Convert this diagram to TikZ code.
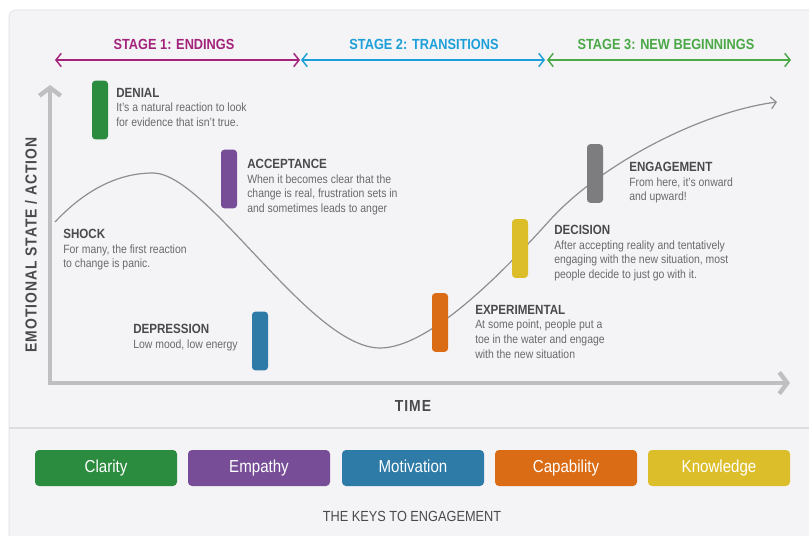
\documentclass[tikz,border=0pt]{standalone}
\usepackage{fontspec}
\setmainfont{Liberation Sans}[FakeStretch=0.87]
\usetikzlibrary{arrows.meta}

\definecolor{panelbg}{HTML}{F4F4F7}
\definecolor{panelline}{HTML}{DDDDE0}
\definecolor{axisgray}{HTML}{BFBFC1}
\definecolor{curvegray}{HTML}{8E8E90}
\definecolor{headgray}{HTML}{4A4A4C}
\definecolor{bodygray}{HTML}{6A6A6C}
\definecolor{stageone}{HTML}{A3237B}
\definecolor{stagetwo}{HTML}{1C9FD9}
\definecolor{stagethree}{HTML}{4BA846}
\definecolor{cgreen}{HTML}{2B8B3F}
\definecolor{cpurple}{HTML}{774D97}
\definecolor{cblue}{HTML}{2E7BA8}
\definecolor{corange}{HTML}{DB6C16}
\definecolor{cyellow}{HTML}{DCBE2B}
\definecolor{cgray}{HTML}{7D7D7F}

\tikzset{
	bar/.style={fill=#1, rounded corners=2.5pt, minimum width=12pt, minimum height=44pt, inner sep=0pt},
	keybox/.style={fill=#1, rounded corners=3pt, minimum width=106.5pt, minimum height=27pt, inner sep=0pt, text height=9.3pt, text depth=2.7pt, text=white, font=\fontsize{13}{15}\selectfont},
	note/.style={anchor=north west, inner sep=0pt, align=left, text=bodygray, font=\fontsize{9}{10.9}\selectfont},
	stagetitle/.style={inner sep=0pt, font=\fontsize{11}{13}\selectfont\bfseries},
	stagearrow/.style={draw=#1, line width=1.1pt, {Straight Barb[length=4pt,width=10pt]}-{Straight Barb[length=4pt,width=10pt]}},
	axislabel/.style={inner sep=0pt, text=headgray, font=\fontsize{12}{14}\selectfont\bfseries\addfontfeature{LetterSpace=6}},
}
\newcommand{\head}[1]{{\color{headgray}\fontsize{10}{12}\selectfont\bfseries #1}}

\begin{document}
\begin{tikzpicture}[x=0.75pt,y=-0.75pt]
	\useasboundingbox (0,0) rectangle (809,535);
	\draw[panelline, fill=panelbg, rounded corners=5pt] (9,10) rectangle (830,560);
	\draw[panelline, line width=1.5pt] (9,428) -- (809,428);

	% stages along the top
	\coordinate (s1l) at (55,60);
	\coordinate (s1r) at (300,60);
	\coordinate (s2l) at (301,60);
	\coordinate (s2r) at (545,60);
	\coordinate (s3l) at (547,60);
	\coordinate (s3r) at (791,60);
	\draw[stagearrow=stageone] (s1l) -- (s1r);
	\draw[stagearrow=stagetwo] (s2l) -- (s2r);
	\draw[stagearrow=stagethree] (s3l) -- (s3r);
	\node[stagetitle, text=stageone] (st1) at (174,44.5) {STAGE 1: ENDINGS};
	\node[stagetitle, text=stagetwo] (st2) at (424,44.5) {STAGE 2: TRANSITIONS};
	\node[stagetitle, text=stagethree] (st3) at (666,44.5) {STAGE 3: NEW BEGINNINGS};

	% axes
	\coordinate (ytip) at (50,85);
	\coordinate (origin) at (50,383);
	\coordinate (xtip) at (790,383);
	\draw[axisgray, line width=3.3pt, {Straight Barb[length=6pt,width=16pt]}-{Straight Barb[length=6pt,width=16pt]}] (ytip) -- (origin) -- (xtip);
	\node[axislabel, rotate=90] (ylab) at (31,245) {EMOTIONAL STATE / ACTION};
	\node[axislabel] (xlab) at (413,406) {TIME};

	% change curve
	\coordinate (cstart) at (55,222);
	\coordinate (cpeak) at (153,173);
	\coordinate (ctrough) at (380,348);
	\coordinate (cmid) at (550,220);
	\coordinate (cend) at (777,102);
	\draw[curvegray, line width=0.9pt, -{Straight Barb[length=4pt,width=9pt]}] (cstart) .. controls (85,190) and (118,173) .. (cpeak)
		.. controls (207,173) and (310,348) .. (ctrough)
		.. controls (430,348) and (505,270) .. (cmid)
		.. controls (600,165) and (700,112) .. (cend);

	% phases
	\node[bar=cgreen] (denial) at (100,110) {};
	\node[bar=cpurple] (accept) at (229,179) {};
	\node[bar=cblue] (depress) at (260,341) {};
	\node[bar=corange] (experim) at (440,322.5) {};
	\node[bar=cyellow] (decide) at (520,248.5) {};
	\node[bar=cgray] (engage) at (595,173.5) {};

	\node[note] (denialtxt) at (116,88) {\head{DENIAL}\\It's a natural reaction to look\\for evidence that isn't true.};
	\node[note] (accepttxt) at (247,159) {\head{ACCEPTANCE}\\When it becomes clear that the\\change is real, frustration sets in\\and sometimes leads to anger};
	\node[note] (shocktxt) at (63,229) {\head{SHOCK}\\For many, the first reaction\\to change is panic.};
	\node[note] (depresstxt) at (133,324) {\head{DEPRESSION}\\Low mood, low energy};
	\node[note] (experimtxt) at (475,305) {\head{EXPERIMENTAL}\\At some point, people put a\\toe in the water and engage\\with the new situation};
	\node[note] (decidetxt) at (554,225) {\head{DECISION}\\After accepting reality and tentatively\\engaging with the new situation, most\\people decide to just go with it.};
	\node[note] (engagetxt) at (629,162) {\head{ENGAGEMENT}\\From here, it's onward\\and upward!};

	% keys
	\node[keybox=cgreen] (clarity) at (106,468) {Clarity};
	\node[keybox=cpurple] (empathy) at (259,468) {Empathy};
	\node[keybox=cblue] (motiv) at (413,468) {Motivation};
	\node[keybox=corange] (capab) at (566,468) {Capability};
	\node[keybox=cyellow] (knowl) at (719,468) {Knowledge};
	\node[text=headgray, font=\fontsize{11}{13}\selectfont] (keystitle) at (412,516) {THE KEYS TO ENGAGEMENT};
\end{tikzpicture}
\end{document}
